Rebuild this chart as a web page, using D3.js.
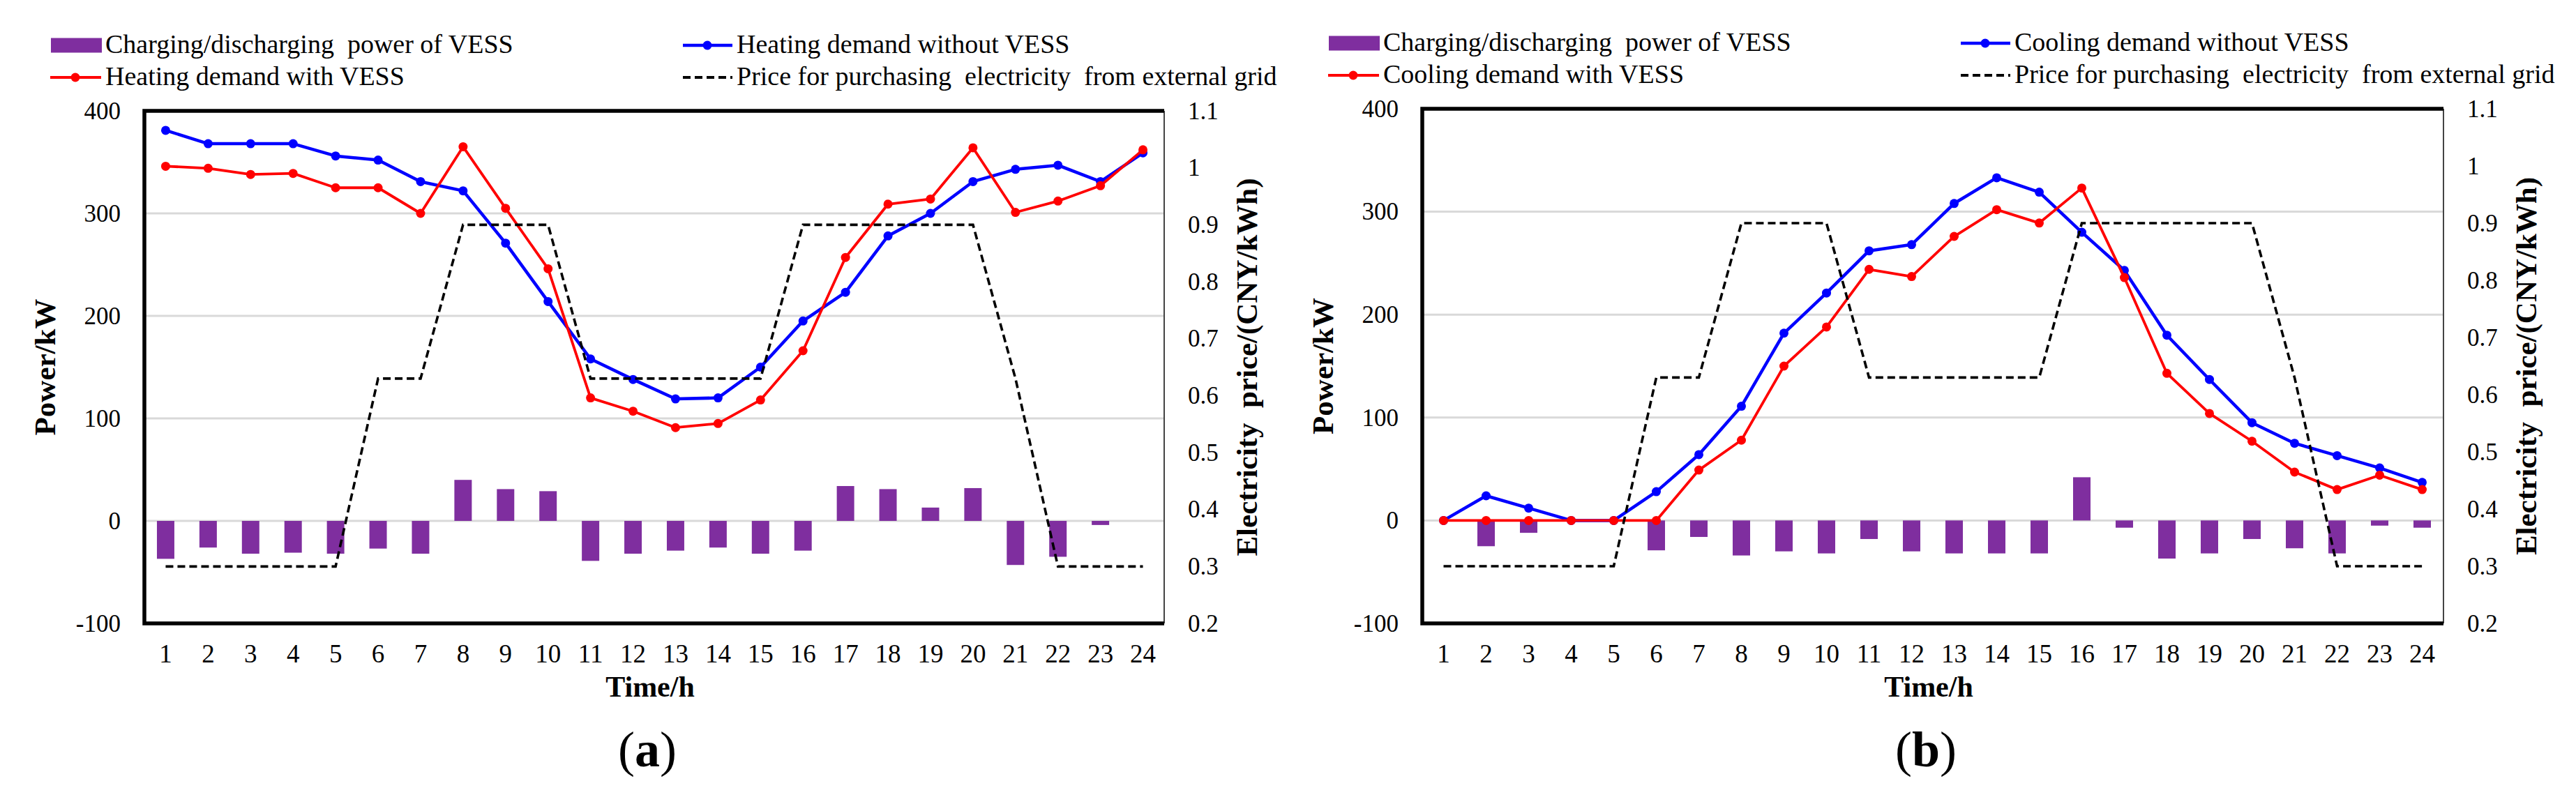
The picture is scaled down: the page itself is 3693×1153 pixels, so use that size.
<!DOCTYPE html>
<html><head><meta charset="utf-8">
<script src="https://cdn.jsdelivr.net/npm/d3@7"></script>
<style>
body{margin:0;background:#fff}
svg{display:block}
text{font-family:"Liberation Serif","Times New Roman",serif;fill:#000}
</style>
</head><body>
<svg id="chart" width="3693" height="1153"></svg>
<script>
// ---- data ----
const hours = [1,2,3,4,5,6,7,8,9,10,11,12,13,14,15,16,17,18,19,20,21,22,23,24];
const price = [0.3,0.3,0.3,0.3,0.3,0.63,0.63,0.9,0.9,0.9,0.63,0.63,0.63,0.63,0.63,0.9,0.9,0.9,0.9,0.9,0.63,0.3,0.3,0.3];

const heatWithout = [381,368,368,368,356,352,331,322,271,214,158,138,119,120,150,195,223,278,300,331,343,347,331,359];
const heatWith    = [346,344,338,339,325,325,300,365,305,246,120,107,91,95,118,166,257,309,314,364,301,312,327,362];
const heatVess    = [-37,-26,-32,-31,-32,-27,-32,40,31,29,-39,-32,-29,-26,-32,-29,34,31,13,32,-43,-35,-4,0];

const coolWithout = [0,24,12,0,0,28,64,111,182,221,262,268,308,333,319,280,243,180,137,95,75,63,51,37];
const coolWith    = [0,0,0,0,0,0,49,78,150,188,244,237,276,302,289,323,236,143,104,77,47,30,44,30];
const coolVess    = [0,-25,-12,0,0,-29,-16,-34,-30,-32,-18,-30,-32,-32,-32,42,-7,-37,-32,-18,-27,-32,-5,-7];

const powerTicks = [-100,0,100,200,300,400];
const gridTicks  = [0,100,200,300];
const priceTicks = [0.2,0.3,0.4,0.5,0.6,0.7,0.8,0.9,1,1.1];

const legendA = ["Charging/discharging  power of VESS","Heating demand with VESS","Heating demand without VESS","Price for purchasing  electricity  from external grid"];
const legendB = ["Charging/discharging  power of VESS","Cooling demand with VESS","Cooling demand without VESS","Price for purchasing  electricity  from external grid"];

const COLORS = {bar:"#7F2E9F", blue:"#0000FF", red:"#FF0000", grid:"#D9D9D9", price:"#000"};

const svg = d3.select("#chart");

function drawPanel(p){
  const g = svg.append("g");
  const x = d3.scaleBand().domain(hours).range([p.left,p.right]).paddingInner(0.59).paddingOuter(0.295);
  const cx = d => x(d) + x.bandwidth()/2;
  const y = d3.scaleLinear().domain([-100,400]).range([p.bottom,p.top]);
  const y2 = d3.scaleLinear().domain([0.2,1.1]).range([p.bottom,p.top]);

  // gridlines
  g.selectAll("line.grid").data(gridTicks).join("line")
    .attr("x1",p.left).attr("x2",p.right)
    .attr("y1",d=>y(d)).attr("y2",d=>y(d))
    .attr("stroke",COLORS.grid).attr("stroke-width",3);

  // bars
  g.selectAll("rect.bar").data(hours).join("rect")
    .attr("x",d=>x(d)).attr("width",x.bandwidth())
    .attr("y",(d,i)=>y(Math.max(0,p.vess[i])))
    .attr("height",(d,i)=>Math.abs(y(p.vess[i])-y(0)))
    .attr("fill",COLORS.bar);

  // lines
  const line = d3.line().x((d,i)=>cx(hours[i]));
  const series = [
    {vals:p.without,color:COLORS.blue,w:4.5},
    {vals:p.withV,color:COLORS.red,w:3.8}
  ];
  series.forEach(s=>{
    g.append("path").datum(s.vals)
      .attr("d",line.y(d=>y(d)))
      .attr("fill","none").attr("stroke",s.color).attr("stroke-width",s.w)
      .attr("stroke-linejoin","round");
    g.selectAll(null).data(s.vals).join("circle")
      .attr("cx",(d,i)=>cx(hours[i])).attr("cy",d=>y(d)).attr("r",6.5)
      .attr("fill",s.color);
  });

  // price
  g.append("path").datum(price)
    .attr("d",d3.line().x((d,i)=>cx(hours[i])).y(d=>y2(d)))
    .attr("fill","none").attr("stroke",COLORS.price).attr("stroke-width",3.6)
    .attr("stroke-dasharray","11,6");

  // frame
  g.append("line").attr("x1",p.right).attr("x2",p.right).attr("y1",p.top).attr("y2",p.bottom)
    .attr("stroke","#444").attr("stroke-width",2);
  g.append("path").attr("d",`M${p.right},${p.top}H${p.left}V${p.bottom}H${p.right}`)
    .attr("fill","none").attr("stroke","#000").attr("stroke-width",5.5);

  // axes
  const ax = g.append("g").attr("transform",`translate(${p.left},0)`)
    .call(d3.axisLeft(y).tickValues(powerTicks).tickSize(0).tickPadding(34).tickFormat(d=>String(d)));
  ax.select(".domain").remove();
  ax.selectAll("text").attr("font-size",35).attr("font-family","Liberation Serif").attr("fill","#000");

  const ax2 = g.append("g").attr("transform",`translate(${p.right},0)`)
    .call(d3.axisRight(y2).tickValues(priceTicks).tickSize(0).tickPadding(34).tickFormat(d=>String(d)));
  ax2.select(".domain").remove();
  ax2.selectAll("text").attr("font-size",35).attr("font-family","Liberation Serif").attr("fill","#000");

  const axb = g.append("g").attr("transform",`translate(0,${p.bottom})`)
    .call(d3.axisBottom(x).tickSize(0).tickPadding(30).tickFormat(d=>String(d)));
  axb.select(".domain").remove();
  axb.selectAll("text").attr("font-size",37).attr("font-family","Liberation Serif").attr("fill","#000");

  const midY = (p.top+p.bottom)/2, midX = (p.left+p.right)/2;
  g.append("text").attr("transform",`translate(${p.left-143},${midY}) rotate(-90)`)
    .attr("text-anchor","middle").attr("dy","0.35em")
    .attr("font-size",43).attr("font-weight","bold").text("Power/kW");
  g.append("text").attr("transform",`translate(${p.right+118},${midY}) rotate(-90)`)
    .attr("text-anchor","middle").attr("dy","0.35em").attr("xml:space","preserve")
    .attr("font-size",43).attr("font-weight","bold").text("Electricity  price/(CNY/kWh)");
  g.append("text").attr("x",midX-6).attr("y",999).attr("text-anchor","middle")
    .attr("font-size",42).attr("font-weight","bold").text("Time/h");
  const lab = g.append("text").attr("x",midX-10).attr("y",1099).attr("text-anchor","middle").attr("font-size",72);
  lab.append("tspan").text("(");
  lab.append("tspan").attr("font-weight","bold").text(p.label);
  lab.append("tspan").text(")");

  // legend
  const L = p.left, ly1 = p.top-94, ly2 = p.top-48;
  const lg = g.append("g").attr("font-size",38);
  lg.append("rect").attr("x",L-134).attr("y",ly1-10.5).attr("width",73).attr("height",21).attr("fill",COLORS.bar);
  lg.append("text").attr("x",L-56).attr("y",ly1+11).attr("xml:space","preserve").text(p.legend[0]);
  lg.append("line").attr("x1",L-135).attr("x2",L-62).attr("y1",ly2).attr("y2",ly2).attr("stroke",COLORS.red).attr("stroke-width",4);
  lg.append("circle").attr("cx",L-99).attr("cy",ly2).attr("r",6.5).attr("fill",COLORS.red);
  lg.append("text").attr("x",L-56).attr("y",ly2+11).attr("xml:space","preserve").text(p.legend[1]);
  lg.append("line").attr("x1",L+772).attr("x2",L+843).attr("y1",ly1).attr("y2",ly1).attr("stroke",COLORS.blue).attr("stroke-width",4.5);
  lg.append("circle").attr("cx",L+807).attr("cy",ly1).attr("r",6.5).attr("fill",COLORS.blue);
  lg.append("text").attr("x",L+849).attr("y",ly1+11).attr("xml:space","preserve").text(p.legend[2]);
  lg.append("line").attr("x1",L+772).attr("x2",L+843).attr("y1",ly2).attr("y2",ly2).attr("stroke","#000").attr("stroke-width",4).attr("stroke-dasharray","11,6");
  lg.append("text").attr("x",L+849).attr("y",ly2+11).attr("xml:space","preserve").text(p.legend[3]);
}

drawPanel({left:207,right:1669,top:159,bottom:894,vess:heatVess,without:heatWithout,withV:heatWith,label:"a",legend:legendA});
drawPanel({left:2039,right:3503,top:156,bottom:894,vess:coolVess,without:coolWithout,withV:coolWith,label:"b",legend:legendB});
</script>
</body></html>
